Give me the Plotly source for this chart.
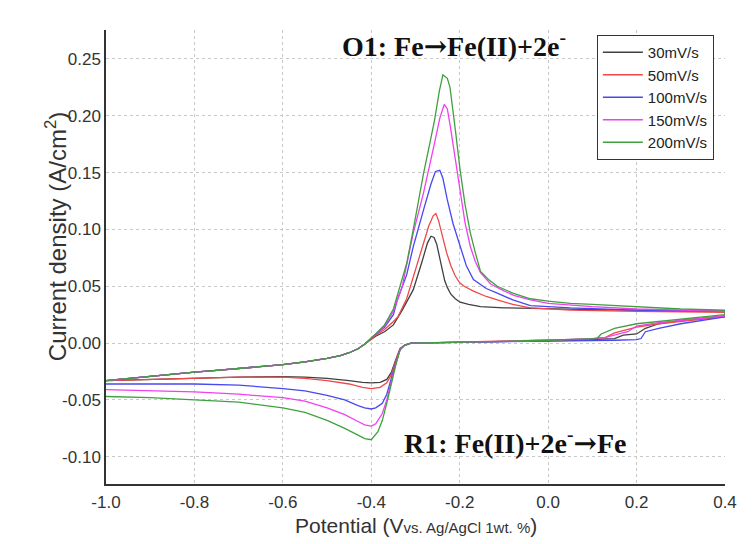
import plotly.graph_objects as go

# Scan rates and trace colours
rates = ["30mV/s", "50mV/s", "100mV/s", "150mV/s", "200mV/s"]
colors = ["#404040", "#f04848", "#4848f0", "#f040f0", "#40a040"]

# Shared start of the anodic sweep (V vs Ag/AgCl, A/cm2)
pot_start = [-1.00, -0.95, -0.90, -0.85, -0.80, -0.75, -0.70, -0.65, -0.60,
             -0.55, -0.50, -0.47, -0.45, -0.43]
cur_start = [-0.033, -0.031, -0.029, -0.027, -0.0255, -0.024, -0.0225, -0.0205,
             -0.019, -0.0165, -0.0135, -0.011, -0.0085, -0.005]

# 30 mV/s: rest of the cycle (anodic peak, return sweep, cathodic peak)
pot_30 = [-0.415, -0.39, -0.37, -0.35, -0.33, -0.305, -0.285, -0.273, -0.265,
          -0.258, -0.252, -0.246, -0.24, -0.234, -0.228, -0.22, -0.21, -0.199,
          -0.18, -0.153, -0.10, 0.0, 0.10, 0.20, 0.30, 0.40,
          0.40, 0.35, 0.30, 0.25, 0.22, 0.20, 0.17, 0.15, 0.12, 0.10, 0.05, 0.0,
          -0.10, -0.20, -0.28, -0.31, -0.325, -0.335, -0.345, -0.355, -0.365,
          -0.38, -0.40, -0.42, -0.45, -0.50, -0.55, -0.60, -0.70, -0.80, -0.90, -1.00]
cur_30 = [-0.001, 0.006, 0.010, 0.016, 0.029, 0.047, 0.072, 0.088, 0.094,
          0.093, 0.087, 0.076, 0.064, 0.055, 0.049, 0.043, 0.039, 0.036,
          0.034, 0.032, 0.031, 0.030, 0.0295, 0.029, 0.0285, 0.028,
          0.024, 0.022, 0.020, 0.017, 0.013, 0.008, 0.007, 0.004, 0.0035, 0.003, 0.0025, 0.002,
          0.0015, 0.0008, 0.0003, 0.0, -0.002, -0.005, -0.015, -0.026, -0.032,
          -0.0345, -0.035, -0.0345, -0.033, -0.031, -0.030, -0.0295, -0.030, -0.031, -0.032, -0.033]

# 50 mV/s
pot_50 = [-0.415, -0.39, -0.37, -0.35, -0.34, -0.32, -0.305, -0.285, -0.27, -0.26,
          -0.254, -0.248, -0.24, -0.23, -0.22, -0.21, -0.20, -0.19, -0.17, -0.14,
          -0.115, -0.08, -0.04, 0.05, 0.20, 0.30, 0.40,
          0.40, 0.35, 0.30, 0.25, 0.20, 0.17, 0.15, 0.13, 0.10, 0.05, 0.0,
          -0.10, -0.20, -0.28, -0.31, -0.325, -0.335, -0.345, -0.355, -0.365,
          -0.38, -0.40, -0.42, -0.45, -0.50, -0.55, -0.60, -0.70, -0.80, -0.90, -1.00]
cur_50 = [-0.001, 0.007, 0.012, 0.019, 0.023, 0.039, 0.058, 0.085, 0.103, 0.112,
          0.114, 0.108, 0.095, 0.080, 0.068, 0.059, 0.053, 0.050, 0.046, 0.041,
          0.038, 0.034, 0.031, 0.029, 0.028, 0.0275, 0.027,
          0.023, 0.021, 0.019, 0.017, 0.014, 0.011, 0.009, 0.005, 0.004, 0.003, 0.0025,
          0.0015, 0.0008, 0.0003, 0.0, -0.002, -0.005, -0.016, -0.028, -0.035,
          -0.039, -0.040, -0.039, -0.036, -0.033, -0.031, -0.030, -0.030, -0.031, -0.032, -0.033]

# 100 mV/s
pot_100 = [-0.415, -0.39, -0.37, -0.35, -0.341, -0.32, -0.305, -0.282, -0.265,
           -0.255, -0.245, -0.238, -0.228, -0.215, -0.199, -0.185, -0.169, -0.14,
           -0.115, -0.08, -0.04, 0.05, 0.20, 0.40,
           0.40, 0.30, 0.25, 0.22, 0.21, 0.20, 0.15, 0.10, 0.05, 0.0,
           -0.10, -0.20, -0.28, -0.31, -0.325, -0.335, -0.345, -0.355, -0.365,
           -0.375, -0.39, -0.40, -0.415, -0.43, -0.46, -0.50, -0.55, -0.60, -0.70,
           -0.80, -0.90, -1.00]
cur_100 = [-0.001, 0.008, 0.014, 0.025, 0.038, 0.060, 0.085, 0.117, 0.140,
           0.151, 0.152, 0.145, 0.126, 0.105, 0.085, 0.068, 0.056, 0.048,
           0.044, 0.038, 0.033, 0.031, 0.029, 0.028,
           0.023, 0.017, 0.013, 0.010, 0.004, 0.003, 0.0025, 0.002, 0.002, 0.0018,
           0.0012, 0.0006, 0.0002, 0.0, -0.002, -0.006, -0.018, -0.032, -0.045,
           -0.053, -0.057, -0.058, -0.057, -0.055, -0.050, -0.046, -0.042, -0.040, -0.037,
           -0.036, -0.036, -0.036]

# 150 mV/s
pot_150 = [-0.415, -0.39, -0.37, -0.35, -0.33, -0.305, -0.282, -0.257, -0.245,
           -0.235, -0.228, -0.221, -0.21, -0.199, -0.188, -0.176, -0.165, -0.153,
           -0.13, -0.10, -0.078, -0.04, 0.0, 0.10, 0.20, 0.30, 0.40,
           0.40, 0.35, 0.30, 0.25, 0.20, 0.18, 0.16, 0.13, 0.10, 0.05, 0.0,
           -0.10, -0.20, -0.28, -0.31, -0.325, -0.335, -0.345, -0.355, -0.365,
           -0.375, -0.39, -0.40, -0.415, -0.43, -0.46, -0.50, -0.55, -0.60, -0.70,
           -0.80, -0.90, -1.00]
cur_150 = [-0.001, 0.008, 0.015, 0.028, 0.050, 0.097, 0.132, 0.176, 0.198,
           0.210, 0.206, 0.190, 0.162, 0.132, 0.106, 0.085, 0.072, 0.062,
           0.052, 0.046, 0.042, 0.038, 0.035, 0.032, 0.030, 0.029, 0.028,
           0.024, 0.022, 0.020, 0.018, 0.015, 0.010, 0.008, 0.005, 0.004, 0.003, 0.0025,
           0.0015, 0.0008, 0.0003, 0.0, -0.002, -0.006, -0.019, -0.035, -0.050,
           -0.062, -0.071, -0.073, -0.072, -0.069, -0.063, -0.057, -0.051, -0.048, -0.045,
           -0.043, -0.042, -0.041]

# 200 mV/s
pot_200 = [-0.415, -0.39, -0.37, -0.35, -0.34, -0.32, -0.305, -0.282, -0.268,
           -0.257, -0.246, -0.238, -0.228, -0.222, -0.21, -0.199, -0.188, -0.176,
           -0.165, -0.153, -0.135, -0.115, -0.08, -0.04, 0.0, 0.05, 0.10, 0.20,
           0.30, 0.40,
           0.40, 0.35, 0.30, 0.25, 0.20, 0.15, 0.12, 0.11, 0.05, 0.0,
           -0.10, -0.20, -0.28, -0.31, -0.325, -0.335, -0.345, -0.355, -0.365,
           -0.375, -0.385, -0.40, -0.415, -0.43, -0.46, -0.50, -0.55, -0.60, -0.70,
           -0.80, -0.90, -1.00]
cur_200 = [-0.001, 0.008, 0.016, 0.030, 0.044, 0.070, 0.100, 0.149, 0.175,
           0.196, 0.222, 0.236, 0.233, 0.225, 0.188, 0.152, 0.122, 0.097,
           0.080, 0.063, 0.056, 0.050, 0.044, 0.039, 0.037, 0.035, 0.034, 0.032,
           0.030, 0.029,
           0.025, 0.023, 0.021, 0.019, 0.017, 0.013, 0.008, 0.004, 0.003, 0.0025,
           0.0015, 0.0008, 0.0003, 0.0, -0.002, -0.006, -0.020, -0.037, -0.053,
           -0.068, -0.078, -0.085, -0.084, -0.081, -0.075, -0.068, -0.061, -0.057, -0.052,
           -0.050, -0.048, -0.047]

pots = [pot_30, pot_50, pot_100, pot_150, pot_200]
curs = [cur_30, cur_50, cur_100, cur_150, cur_200]

x_ticks = [-1.0, -0.8, -0.6, -0.4, -0.2, 0.0, 0.2, 0.4]
x_tick_labels = ["-1.0", "-0.8", "-0.6", "-0.4", "-0.2", "0.0", "0.2", "0.4"]
y_ticks = [-0.10, -0.05, 0.00, 0.05, 0.10, 0.15, 0.20, 0.25]
y_tick_labels = ["-0.10", "-0.05", "0.00", "0.05", "0.10", "0.15", "0.20", "0.25"]

SANS = "Liberation Sans, Arial, sans-serif"
SERIF = "Liberation Serif, Times New Roman, serif"
ARROW = "<span style='font-family:DejaVu Serif'>\u2192</span>"

fig = go.Figure()
for name, color, p, c in zip(rates, colors, pots, curs):
    fig.add_trace(go.Scatter(
        x=pot_start + p, y=cur_start + c, mode="lines", name=name,
        line=dict(color=color, width=1.3),
    ))

axis_common = dict(
    showline=True, linecolor="#333333", linewidth=1.5, mirror=False,
    showgrid=True, gridcolor="#c8c8c8", gridwidth=1, griddash="dot",
    zeroline=False, ticks="", tickfont=dict(family=SANS, size=17, color="#333333"),
)

fig.update_layout(
    width=754, height=544,
    margin=dict(l=106, r=29, t=30, b=60),
    paper_bgcolor="white", plot_bgcolor="white",
    xaxis=dict(range=[-1.0, 0.4], tickvals=x_ticks, ticktext=x_tick_labels,
               ticklabelstandoff=2, **axis_common),
    yaxis=dict(range=[-0.124, 0.2755], tickvals=y_ticks, ticktext=y_tick_labels,
               ticklabelstandoff=0, **axis_common),
    showlegend=True,
    legend=dict(x=0.793, y=0.989, xanchor="left", yanchor="top",
                bgcolor="white", bordercolor="#333333", borderwidth=1,
                font=dict(family=SANS, size=15, color="#222222"),
                tracegroupgap=0, itemwidth=40),
    annotations=[
        dict(text="<b>O1: Fe" + ARROW + "Fe(II)+2e<sup>-</sup></b>", x=-0.212, y=0.262,
             xref="x", yref="y", showarrow=False,
             font=dict(family=SERIF, size=28, color="#111111")),
        dict(text="<b>R1: Fe(II)+2e<sup>-</sup>" + ARROW + "Fe</b>", x=-0.075, y=-0.0866,
             xref="x", yref="y", showarrow=False,
             font=dict(family=SERIF, size=28, color="#111111")),
        dict(text="Current density (A/cm<sup>2</sup>)", textangle=-90,
             x=-0.108, y=0.544, xref="paper", yref="paper", showarrow=False,
             font=dict(family=SANS, size=24, color="#333333")),
        dict(text="Potential (V<span style='font-size:15px'>vs. Ag/AgCl 1wt. %</span>)",
             x=0.5, y=-0.092, xref="paper", yref="paper", showarrow=False,
             yanchor="middle",
             font=dict(family=SANS, size=21, color="#333333")),
    ],
)

fig.write_html("out.html")
